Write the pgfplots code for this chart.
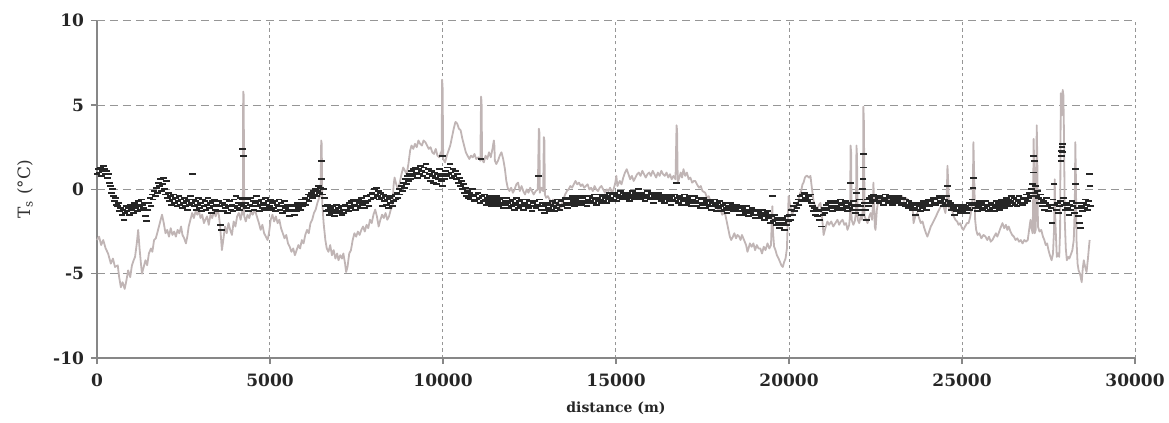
\documentclass[border=0pt]{standalone}
\usepackage{fontspec}
\setmainfont{DejaVu Serif}
\usepackage{pgfplots}
\pgfplotsset{compat=1.18}
\definecolor{lgray}{RGB}{192,181,181}
\definecolor{dmark}{RGB}{38,38,38}
\definecolor{gridc}{RGB}{150,150,150}
\definecolor{axc}{RGB}{135,135,135}
\begin{document}
\begin{tikzpicture}
\useasboundingbox (-48.5pt,-32pt) rectangle (536pt,179.05pt);
\begin{axis}[
  at={(0,0)}, anchor=south west,
  scale only axis, width=519pt, height=168.7pt,
  xmin=0, xmax=30000, ymin=-10, ymax=10,
  scaled x ticks=false, scaled y ticks=false,
  axis x line=bottom, axis y line=left,
  axis line style={-, draw=axc, line width=0.8pt},
  xtick={0,5000,10000,15000,20000,25000,30000},
  xticklabels={0,5000,10000,15000,20000,25000,30000},
  ytick={-10,-5,0,5,10},
  yticklabels={-10,-5,0,5,10},
  tick align=outside, major tick length=3pt,
  tick style={draw=axc, line width=0.6pt},
  tick label style={font=\fontsize{8.5}{10}\selectfont\bfseries, text=black!85},
  xticklabel style={yshift=-1.5pt},
  xmajorgrids, ymajorgrids,
  x grid style={draw=gridc, line width=0.5pt, dash pattern=on 1.6pt off 1.6pt},
  y grid style={draw=gridc, line width=0.5pt, dash pattern=on 4pt off 2.5pt},
  xlabel={distance (m)},
  xlabel style={font=\fontsize{7}{8}\selectfont\bfseries, text=black!85, at={(axis description cs:0.5,-0.148)}, anchor=center},
  ylabel={T\textsubscript{s} (°C)},
  ylabel style={font=\fontsize{8.5}{10}\selectfont, text=black!80, at={(axis description cs:-0.069,0.5)}, anchor=center, rotate=0},
  clip=false,
]
\addplot[color=lgray, line width=0.9pt, line join=round] table {
x y
0 -3.0
60 -2.8
120 -3.3
180 -3.0
250 -3.5
320 -3.8
400 -4.4
460 -4.1
520 -4.6
600 -4.5
640 -5.2
690 -5.8
740 -5.5
800 -5.9
850 -5.4
900 -4.8
960 -5.2
1010 -4.5
1060 -4.2
1100 -4.0
1150 -3.2
1190 -2.4
1230 -3.5
1270 -4.4
1300 -5.0
1350 -4.6
1400 -4.2
1450 -4.5
1500 -3.8
1560 -3.5
1600 -3.7
1650 -3.0
1700 -2.9
1740 -2.6
1790 -2.2
1840 -1.8
1880 -1.5
1930 -2.0
1980 -2.6
2030 -2.4
2080 -2.8
2130 -2.3
2180 -2.7
2230 -2.5
2280 -2.8
2330 -2.4
2380 -2.6
2430 -2.2
2470 -2.7
2520 -2.9
2570 -3.2
2610 -2.8
2650 -2.2
2700 -1.8
2750 -1.4
2800 -1.7
2850 -1.3
2900 -1.5
2940 -1.2
2990 -1.7
3040 -1.5
3090 -2.0
3130 -1.8
3180 -1.6
3230 -2.1
3280 -1.5
3330 -1.7
3380 -1.3
3430 -1.6
3480 -1.2
3520 -1.5
3560 -2.2
3610 -3.6
3650 -3.0
3700 -2.2
3750 -2.6
3800 -2.0
3850 -2.4
3900 -2.7
3950 -1.9
4000 -2.2
4050 -1.6
4100 -1.4
4150 -1.8
4200 -1.2
4215 -1.5
4225 5.8
4240 5.6
4255 -1.6
4300 -1.9
4350 -1.5
4400 -1.7
4450 -1.3
4500 -1.5
4560 -1.2
4620 -1.6
4680 -2.0
4730 -2.4
4780 -2.1
4830 -2.6
4880 -2.8
4930 -3.0
4970 -2.6
5020 -1.8
5070 -1.5
5120 -1.9
5170 -1.6
5220 -2.0
5270 -1.8
5320 -2.3
5370 -2.6
5420 -2.9
5470 -2.7
5520 -3.2
5570 -3.4
5620 -3.7
5670 -3.5
5720 -3.9
5770 -3.6
5820 -3.3
5870 -3.5
5920 -3.0
5970 -3.2
6020 -2.7
6070 -2.4
6120 -2.6
6170 -2.0
6220 -1.8
6270 -1.4
6320 -1.2
6370 -0.8
6420 -0.5
6460 -0.3
6480 2.9
6495 2.7
6510 -0.8
6550 -2.0
6600 -3.0
6640 -3.5
6690 -3.7
6740 -3.3
6790 -3.9
6840 -3.6
6890 -4.1
6940 -3.8
6980 -4.2
7030 -3.9
7080 -4.1
7120 -3.8
7170 -4.4
7200 -4.9
7240 -4.6
7290 -3.8
7340 -3.6
7390 -3.0
7440 -2.6
7490 -2.8
7540 -2.5
7590 -2.7
7640 -2.4
7690 -2.2
7740 -2.5
7790 -2.1
7840 -2.3
7890 -1.8
7940 -2.0
7990 -1.5
8040 -1.2
8090 -1.6
8140 -2.2
8190 -1.8
8240 -1.5
8290 -1.7
8340 -1.4
8390 -1.8
8440 -1.6
8490 -1.2
8540 -1.0
8570 0.2
8600 0.7
8650 0.3
8700 0.0
8750 0.4
8800 0.9
8850 1.3
8900 1.1
8950 0.9
9000 1.5
9050 2.3
9090 2.6
9140 2.4
9190 2.7
9240 2.5
9290 2.9
9340 2.7
9390 2.6
9440 2.9
9490 2.8
9540 2.6
9590 2.4
9640 2.5
9690 2.2
9740 2.1
9790 2.4
9840 2.0
9890 1.9
9940 2.2
9960 2.0
9975 6.5
9990 6.0
10005 1.8
10060 1.6
10110 2.0
10160 2.3
10210 2.6
10260 3.1
10310 3.6
10360 4.0
10410 3.9
10460 3.6
10510 3.5
10560 3.0
10610 2.6
10660 2.2
10710 2.0
10760 1.8
10810 2.0
10860 1.9
10910 2.1
10960 1.8
11020 1.9
11080 1.7
11100 5.5
11115 5.2
11130 1.8
11180 1.6
11230 2.0
11280 1.8
11330 2.2
11380 1.9
11430 2.4
11470 2.9
11485 2.6
11500 1.7
11540 1.5
11590 1.7
11640 2.0
11690 2.2
11740 1.8
11790 1.2
11830 0.5
11870 0.1
11920 -0.1
11970 0.1
12020 -0.2
12070 0.0
12120 0.3
12170 0.4
12220 -0.1
12270 0.2
12320 -0.1
12370 -0.3
12420 0.0
12470 -0.2
12520 0.1
12570 -0.1
12620 -0.3
12680 -0.1
12740 0.0
12770 3.6
12785 3.4
12800 -0.2
12840 0.1
12895 -0.1
12915 3.1
12930 2.9
12945 -0.3
12980 -0.5
13030 -0.4
13080 -0.6
13130 -0.9
13180 -0.6
13230 -0.8
13280 -1.0
13330 -0.7
13380 -1.2
13430 -0.9
13480 -0.6
13530 -0.3
13580 -0.1
13630 0.0
13680 0.2
13730 0.1
13780 0.3
13830 0.5
13880 0.3
13930 0.4
13980 0.2
14030 0.3
14080 0.1
14130 0.2
14180 0.3
14230 0.0
14280 0.1
14330 -0.1
14380 0.2
14430 0.0
14480 -0.1
14530 0.1
14580 0.2
14630 0.0
14680 -0.2
14730 0.0
14780 -0.1
14830 0.1
14880 -0.2
14930 0.0
14980 0.4
15010 0.8
15040 0.2
15110 0.5
15160 0.3
15210 0.7
15260 1.0
15310 1.2
15360 0.9
15410 0.6
15460 0.8
15510 0.5
15560 0.7
15610 0.9
15660 1.0
15710 0.8
15760 1.1
15810 0.9
15860 0.7
15910 0.9
15960 1.0
16010 0.8
16060 1.1
16110 0.9
16160 0.7
16210 1.0
16260 0.8
16310 1.1
16360 0.9
16410 0.8
16460 1.0
16510 0.7
16560 0.9
16610 0.6
16660 0.8
16720 0.6
16750 3.8
16765 3.5
16785 0.4
16830 0.7
16870 1.0
16910 0.7
16950 1.2
17000 0.8
17050 1.0
17100 0.6
17150 0.7
17200 0.4
17250 0.5
17290 0.5
17340 0.3
17400 0.1
17450 0.2
17500 -0.1
17580 -0.2
17630 -0.5
17680 -0.4
17730 -0.7
17780 -0.8
17830 -0.9
17870 -1.1
17920 -1.0
17970 -1.3
18020 -1.2
18070 -1.5
18120 -1.4
18160 -1.5
18200 -1.9
18250 -2.4
18290 -2.8
18330 -3.0
18380 -2.8
18420 -2.6
18470 -2.9
18510 -2.7
18560 -2.8
18600 -3.0
18640 -2.7
18680 -2.9
18720 -3.1
18760 -3.3
18800 -3.7
18830 -3.5
18870 -3.2
18920 -3.4
18970 -3.2
19020 -3.6
19070 -3.3
19120 -3.5
19170 -3.5
19220 -3.8
19270 -3.4
19320 -3.6
19380 -3.2
19430 -3.5
19480 -3.3
19500 -2.0
19520 -1.0
19540 -2.6
19570 -3.4
19610 -3.6
19650 -3.9
19700 -4.1
19740 -4.3
19780 -4.5
19820 -4.6
19860 -4.3
19900 -4.1
19940 -3.5
19970 -1.5
19990 -0.4
20030 -0.9
20070 -1.3
20100 -1.5
20140 -1.1
20190 -0.9
20230 -1.0
20270 -0.7
20310 -0.3
20350 -0.1
20390 0.3
20420 0.4
20460 0.7
20500 0.8
20530 0.8
20580 0.7
20620 0.8
20660 0.1
20710 -0.7
20760 -1.0
20820 -1.2
20870 -0.9
20910 -0.8
20950 -1.5
21000 -2.7
21050 -2.3
21110 -1.9
21160 -2.1
21220 -1.9
21280 -2.2
21340 -2.0
21400 -1.8
21450 -2.1
21500 -1.9
21550 -1.8
21600 -2.1
21650 -2.0
21690 -2.4
21740 -2.1
21765 -1.5
21780 2.6
21795 2.2
21810 -1.8
21860 -2.1
21900 -1.9
21935 -1.4
21950 2.6
21965 2.0
21985 -1.8
22030 -2.0
22070 -1.6
22110 -1.8
22135 -1.0
22150 4.9
22165 4.0
22185 -1.6
22230 -1.8
22270 -2.0
22320 -1.6
22360 -1.4
22400 -1.8
22425 -1.0
22440 0.4
22455 -0.5
22480 -2.2
22500 -2.4
22540 -1.2
22590 -0.5
22640 -0.7
22690 -0.4
22740 -0.6
22790 -0.5
22840 -0.7
22880 -0.5
22930 -0.6
22980 -0.4
23030 -0.6
23080 -0.5
23130 -0.7
23170 -0.5
23220 -0.6
23270 -0.4
23320 -0.7
23370 -0.5
23420 -0.6
23450 -0.7
23500 -0.9
23570 -1.0
23600 -2.0
23650 -1.6
23710 -1.4
23760 -1.7
23810 -2.0
23860 -1.9
23910 -2.3
23960 -2.6
24000 -2.8
24050 -2.5
24100 -2.2
24150 -2.0
24200 -1.8
24250 -1.6
24290 -1.4
24340 -1.2
24390 -1.0
24440 -0.9
24480 -1.1
24520 -1.4
24555 -0.8
24580 1.4
24600 0.5
24630 -1.2
24670 -1.0
24720 -1.3
24760 -1.6
24810 -1.8
24860 -1.9
24900 -2.1
24950 -2.0
25000 -2.3
25040 -2.4
25090 -2.2
25140 -2.0
25190 -2.0
25240 -1.6
25280 -1.0
25310 -0.5
25330 2.8
25350 1.0
25380 -1.8
25410 -2.4
25450 -2.7
25500 -2.6
25560 -2.9
25620 -2.7
25680 -2.8
25730 -3.0
25780 -2.8
25830 -3.1
25880 -3.0
25930 -2.8
25980 -2.6
26020 -2.8
26060 -2.6
26110 -2.3
26170 -2.0
26220 -2.3
26270 -2.1
26310 -2.4
26350 -2.2
26400 -2.5
26450 -2.7
26500 -2.8
26550 -3.0
26600 -2.9
26650 -3.1
26700 -3.0
26750 -3.2
26800 -3.0
26850 -3.1
26900 -3.0
26940 -2.4
26980 -1.8
27010 -2.3
27040 -2.6
27055 -1.0
27070 3.0
27085 1.5
27100 -2.6
27130 -2.4
27145 0.0
27160 3.8
27175 2.0
27195 -2.2
27240 -2.5
27290 -2.4
27340 -2.8
27380 -3.0
27420 -3.3
27460 -3.2
27500 -3.6
27540 -3.9
27590 -4.2
27630 -3.8
27660 -2.4
27680 0.6
27700 -2.0
27740 -4.0
27780 -3.8
27810 -4.0
27835 -2.5
27855 5.7
27875 5.0
27890 4.4
27910 5.9
27930 5.6
27950 3.0
27970 -1.8
28000 -3.5
28030 -4.2
28070 -4.0
28100 -4.1
28140 -3.9
28190 -3.6
28230 -3.0
28260 -1.0
28275 2.8
28290 1.0
28310 -3.0
28340 -4.4
28370 -4.8
28410 -5.0
28440 -5.3
28460 -5.5
28490 -4.7
28520 -4.2
28560 -4.6
28600 -4.9
28640 -4.1
28670 -3.4
28690 -3.0
};
\addplot[only marks, mark=-, mark size=1.7pt, color=dmark, mark options={line width=0.95pt}] table {
x y
0 0.9
30 1.2
60 1.0
90 1.3
120 0.8
150 1.1
180 1.4
210 1.2
240 0.9
270 1.1
300 0.7
330 0.9
360 0.4
390 0.2
420 -0.2
450 0.0
480 -0.4
510 -0.7
540 -0.5
570 -0.9
600 -1.0
630 -0.8
660 -1.3
690 -1.1
720 -1.5
750 -1.2
780 -1.8
810 -1.4
840 -1.0
870 -1.3
900 -1.1
930 -1.5
960 -0.9
990 -1.2
1020 -1.0
1050 -1.4
1080 -0.8
1110 -1.1
1140 -0.9
1170 -1.3
1200 -0.7
1230 -1.0
1260 -1.2
1290 -0.6
1320 -0.9
1350 -1.1
1380 -0.8
1410 -1.6
1440 -1.9
1470 -1.2
1500 -0.8
1530 -0.5
1560 -1.0
1590 -0.3
1620 -0.6
1650 -0.1
1680 -0.4
1710 0.1
1740 -0.2
1770 0.4
1800 0.2
1830 0.6
1860 -0.1
1890 0.3
1920 0.7
1950 0.0
1980 -0.3
2010 0.5
2040 -0.5
2070 -0.2
2100 -0.7
2130 -0.4
2160 -0.9
2190 -0.6
2220 -0.3
2250 -0.8
2280 -0.5
2310 -1.0
2340 -0.7
2370 -0.4
2400 -0.9
2430 -0.6
2460 -1.1
2490 -0.8
2520 -0.5
2550 -1.0
2580 -0.7
2610 -1.2
2640 -0.6
2670 -0.9
2700 -0.4
2730 -0.8
2760 0.9
2790 -0.6
2820 -1.0
2850 -0.7
2880 -1.2
2910 -0.9
2940 -0.5
2970 -1.1
3000 -0.8
3030 -1.3
3060 -0.6
3090 -1.0
3120 -0.7
3150 -1.2
3180 -0.9
3210 -0.5
3240 -1.1
3270 -0.8
3300 -1.4
3330 -0.7
3360 -1.0
3390 -0.6
3420 -1.2
3450 -0.9
3480 -1.3
3510 -0.7
3540 -1.0
3570 -2.1
3600 -2.4
3630 -0.8
3660 -1.3
3690 -0.9
3720 -1.1
3750 -0.6
3780 -1.4
3810 -1.0
3840 -0.7
3870 -1.2
3900 -0.9
3930 -1.3
3960 -0.6
3990 -1.0
4020 -0.4
4050 -1.1
4080 -0.8
4110 -1.2
4140 -0.5
4170 -0.9
4200 -0.6
4215 2.4
4225 2.0
4240 -1.0
4270 -0.5
4300 -0.8
4330 -1.1
4360 -0.6
4390 -1.3
4420 -0.9
4450 -0.5
4480 -1.0
4510 -0.7
4540 -1.2
4570 -0.8
4600 -0.4
4630 -1.0
4660 -0.7
4690 -1.3
4720 -0.9
4750 -0.6
4780 -1.1
4810 -0.8
4840 -1.2
4870 -0.5
4900 -0.9
4930 -1.1
4960 -0.7
4990 -1.0
5020 -0.6
5050 -1.2
5080 -0.8
5110 -1.1
5140 -0.7
5170 -1.3
5200 -0.9
5230 -1.0
5260 -0.6
5290 -1.2
5320 -0.8
5350 -1.4
5380 -1.0
5410 -0.7
5440 -1.1
5470 -1.3
5500 -0.9
5530 -1.2
5560 -1.6
5590 -1.0
5620 -1.3
5650 -0.9
5680 -1.2
5710 -1.5
5740 -1.0
5770 -1.3
5800 -0.8
5830 -1.1
5860 -0.9
5890 -1.2
5920 -0.6
5950 -1.0
5980 -0.8
6010 -0.5
6040 -0.9
6070 -0.6
6100 -0.3
6130 -0.7
6160 -0.4
6190 -0.2
6220 -0.5
6250 -0.1
6280 -0.3
6310 0.0
6340 -0.4
6370 -0.1
6400 0.2
6430 -0.2
6460 0.1
6480 1.7
6490 0.6
6510 -0.3
6540 0.0
6570 -0.5
6600 -1.0
6630 -1.3
6660 -0.9
6690 -1.2
6720 -1.5
6750 -1.1
6780 -1.4
6810 -1.0
6840 -1.3
6870 -1.6
6900 -1.2
6930 -0.9
6960 -1.4
6990 -1.1
7020 -1.3
7050 -1.0
7080 -1.5
7110 -1.2
7140 -1.4
7170 -0.9
7200 -1.2
7230 -1.0
7260 -1.3
7290 -0.8
7320 -1.1
7350 -0.7
7380 -1.0
7410 -0.6
7440 -0.9
7470 -1.2
7500 -0.7
7530 -1.0
7560 -0.6
7590 -0.8
7620 -1.1
7650 -0.5
7680 -0.9
7710 -0.7
7740 -1.1
7770 -0.8
7800 -0.4
7830 -0.7
7860 -1.0
7890 -0.3
7920 -0.6
7950 -0.2
7980 -0.5
8010 0.0
8040 -0.3
8070 0.1
8100 -0.4
8130 -0.1
8160 -0.6
8190 -0.2
8220 -0.5
8250 -1.0
8280 -0.3
8310 -0.7
8340 -0.4
8370 -0.9
8400 -0.6
8430 -1.1
8460 -0.5
8490 -0.8
8520 -0.4
8550 -1.0
8580 -0.7
8610 -0.3
8640 -0.6
8670 -0.2
8700 -0.5
8730 0.0
8760 -0.3
8790 0.2
8820 -0.1
8850 0.4
8880 0.1
8910 0.6
8940 0.3
8970 0.8
9000 0.5
9030 0.9
9060 0.6
9090 1.1
9120 0.8
9150 1.2
9180 0.9
9210 1.3
9240 1.0
9270 0.7
9300 1.2
9330 0.9
9360 1.4
9390 1.1
9420 0.8
9450 1.3
9480 1.0
9510 1.5
9540 0.7
9570 1.2
9600 0.9
9630 0.5
9660 1.1
9690 0.8
9720 0.4
9750 1.0
9780 0.7
9810 0.3
9840 0.9
9870 0.6
9900 1.2
9930 0.8
9960 0.5
9975 2.0
9990 0.2
10020 0.9
10050 0.6
10080 1.1
10110 0.8
10140 1.3
10170 0.9
10200 1.5
10230 1.0
10260 0.7
10290 1.2
10320 0.8
10350 1.1
10380 0.6
10410 0.9
10440 0.4
10470 0.7
10500 0.2
10530 0.5
10560 0.0
10590 0.3
10620 -0.2
10650 0.1
10680 -0.4
10710 -0.1
10740 -0.5
10770 -0.2
10800 -0.6
10830 -0.3
10860 0.0
10890 -0.4
10920 -0.7
10950 -0.3
10980 -0.6
11010 -0.2
11040 -0.5
11070 -0.8
11100 1.8
11130 -0.4
11160 -0.7
11190 -0.3
11220 -0.6
11250 -0.9
11280 -0.5
11310 -0.8
11340 -0.4
11370 -0.7
11400 -1.0
11430 -0.6
11460 -0.9
11490 -0.5
11520 -0.8
11550 -0.4
11580 -0.7
11610 -1.0
11640 -0.6
11670 -0.9
11700 -0.5
11730 -0.8
11760 -1.1
11790 -0.7
11820 -0.9
11850 -0.5
11880 -0.8
11910 -1.1
11940 -0.7
11970 -1.0
12000 -0.6
12030 -0.9
12060 -1.2
12090 -0.8
12120 -0.5
12150 -0.9
12180 -1.1
12210 -0.7
12240 -1.0
12270 -0.6
12300 -0.9
12330 -1.2
12360 -0.8
12390 -1.0
12420 -0.6
12450 -0.9
12480 -1.1
12510 -0.7
12540 -1.0
12570 -1.3
12600 -0.8
12630 -1.0
12660 -0.7
12690 -1.1
12720 -0.9
12770 0.8
12780 -0.6
12810 -1.0
12840 -1.2
12870 -0.8
12900 -1.0
12930 -1.4
12960 -0.9
12990 -1.2
13020 -0.8
13050 -1.1
13080 -1.3
13110 -0.9
13140 -1.2
13170 -0.7
13200 -1.0
13230 -1.3
13260 -0.8
13290 -1.1
13320 -0.6
13350 -0.9
13380 -1.2
13410 -0.7
13440 -1.0
13470 -0.6
13500 -0.9
13530 -0.5
13560 -0.8
13590 -1.1
13620 -0.6
13650 -0.9
13680 -0.5
13710 -0.8
13740 -0.4
13770 -0.7
13800 -1.0
13830 -0.6
13860 -0.9
13890 -0.5
13920 -0.8
13950 -0.4
13980 -0.7
14010 -0.9
14040 -0.5
14070 -0.8
14100 -0.4
14130 -0.7
14160 -1.0
14190 -0.6
14220 -0.8
14250 -0.4
14280 -0.7
14310 -0.5
14340 -0.8
14370 -0.3
14400 -0.6
14430 -0.9
14460 -0.5
14490 -0.7
14520 -0.3
14550 -0.6
14580 -0.8
14610 -0.4
14640 -0.7
14670 -0.3
14700 -0.5
14730 -0.8
14760 -0.4
14790 -0.6
14820 -0.2
14850 -0.5
14880 -0.7
14910 -0.3
14940 -0.6
14970 -0.2
15000 -0.4
15030 -0.7
15060 -0.3
15090 -0.5
15120 -0.1
15150 -0.4
15180 -0.6
15210 -0.2
15240 -0.5
15270 -0.3
15300 -0.6
15330 -0.2
15360 -0.4
15390 -0.7
15420 -0.3
15450 -0.5
15480 -0.1
15510 -0.4
15540 -0.6
15570 -0.2
15600 -0.5
15630 -0.3
15660 0.0
15690 -0.4
15720 -0.6
15750 -0.2
15780 -0.5
15810 -0.3
15840 -0.7
15870 -0.4
15900 -0.1
15930 -0.5
15960 -0.3
15990 -0.6
16020 -0.2
16050 -0.5
16080 -0.8
16110 -0.4
16140 -0.6
16170 -0.3
16200 -0.5
16230 -0.2
16260 -0.6
16290 -0.4
16320 -0.7
16350 -0.3
16380 -0.5
16410 -0.8
16440 -0.4
16470 -0.6
16500 -0.3
16530 -0.7
16560 -0.5
16590 -0.9
16620 -0.4
16650 -0.6
16680 -0.3
16710 -0.7
16750 0.4
16770 -0.5
16800 -0.8
16830 -0.4
16860 -0.6
16890 -0.9
16920 -0.5
16950 -0.7
16980 -0.3
17010 -0.6
17040 -0.9
17070 -0.5
17100 -0.8
17130 -0.4
17160 -0.7
17190 -1.0
17220 -0.6
17250 -0.8
17280 -0.4
17310 -0.7
17340 -1.0
17370 -0.5
17400 -0.8
17430 -1.1
17460 -0.6
17490 -0.9
17520 -0.5
17550 -0.8
17580 -1.1
17610 -0.7
17640 -0.9
17670 -0.6
17700 -1.0
17730 -0.7
17760 -1.2
17790 -0.8
17820 -1.0
17850 -0.6
17880 -0.9
17910 -1.3
17940 -0.8
17970 -1.1
18000 -0.7
18030 -1.0
18060 -1.3
18090 -0.9
18120 -1.2
18150 -0.8
18180 -1.1
18210 -1.4
18240 -1.0
18270 -1.2
18300 -0.8
18330 -1.1
18360 -0.9
18390 -1.3
18420 -1.0
18450 -1.2
18480 -0.9
18510 -1.3
18540 -1.1
18570 -1.5
18600 -1.0
18630 -1.3
18660 -1.1
18690 -1.5
18720 -1.2
18750 -1.4
18780 -1.0
18810 -1.3
18840 -1.6
18870 -1.2
18900 -1.4
18930 -1.1
18960 -1.5
18990 -1.3
19020 -1.7
19050 -1.2
19080 -1.5
19110 -1.3
19140 -1.7
19170 -1.4
19200 -1.6
19230 -1.2
19260 -1.5
19290 -1.8
19320 -1.4
19350 -1.6
19380 -1.3
19410 -1.7
19440 -1.5
19470 -2.0
19500 -1.6
19520 -0.4
19540 -1.9
19570 -1.5
19600 -1.8
19630 -2.1
19660 -1.7
19690 -2.0
19720 -2.3
19750 -1.8
19780 -2.1
19810 -1.7
19840 -2.0
19870 -2.4
19900 -1.8
19930 -2.1
19960 -1.6
19990 -1.9
20020 -1.5
20050 -1.8
20080 -1.2
20110 -1.5
20140 -1.0
20170 -1.3
20200 -0.8
20230 -1.1
20260 -0.6
20290 -0.9
20320 -0.4
20350 -0.7
20380 -0.3
20410 -0.6
20440 -0.2
20470 -0.5
20500 -0.3
20530 -0.7
20560 -0.4
20590 -0.6
20620 -0.3
20650 -0.8
20680 -1.0
20710 -1.3
20740 -1.1
20770 -1.5
20800 -1.2
20830 -1.6
20860 -1.3
20890 -1.8
20920 -1.2
20950 -2.2
20980 -1.5
21010 -1.1
21040 -1.4
21070 -0.9
21100 -1.2
21130 -0.8
21160 -1.1
21190 -0.7
21220 -1.0
21250 -1.3
21280 -0.8
21310 -1.1
21340 -0.7
21370 -1.0
21400 -1.2
21430 -0.8
21460 -1.1
21490 -0.6
21520 -0.9
21550 -1.2
21580 -0.8
21610 -1.1
21640 -0.7
21670 -1.0
21700 -1.3
21730 -0.8
21760 -1.1
21780 0.4
21800 -0.9
21830 -1.2
21860 -0.7
21890 -1.0
21920 -1.4
21950 -0.2
21980 -0.9
22010 -1.2
22040 -0.6
22070 -1.0
22100 -1.5
22130 0.0
22140 0.6
22150 1.3
22160 2.1
22180 -0.8
22210 -1.2
22240 -1.8
22270 -0.6
22300 -1.0
22330 -0.5
22360 -0.8
22390 -0.4
22420 -0.7
22450 -0.3
22480 -0.6
22510 -0.4
22540 -0.7
22570 -0.5
22600 -0.8
22630 -0.4
22660 -0.7
22690 -0.5
22720 -0.9
22750 -0.6
22780 -0.3
22810 -0.7
22840 -0.5
22870 -0.8
22900 -0.4
22930 -0.7
22960 -0.5
22990 -0.9
23020 -0.6
23050 -0.4
23080 -0.8
23110 -0.5
23140 -0.7
23170 -0.4
23200 -0.8
23230 -0.6
23260 -0.9
23290 -0.5
23320 -0.8
23350 -1.0
23380 -0.6
23410 -0.9
23440 -1.1
23470 -0.7
23500 -1.0
23530 -0.8
23560 -1.2
23590 -0.9
23620 -1.1
23650 -1.5
23680 -0.9
23710 -1.2
23740 -0.8
23770 -1.0
23800 -1.3
23830 -0.9
23860 -1.1
23890 -0.7
23920 -1.0
23950 -0.8
23980 -1.2
24010 -0.9
24040 -0.6
24070 -1.0
24100 -0.7
24130 -0.9
24160 -0.5
24190 -0.8
24220 -0.6
24250 -0.9
24280 -0.5
24310 -0.8
24340 -0.4
24370 -0.7
24400 -0.5
24430 -0.8
24460 -1.0
24490 -0.6
24520 -0.9
24550 -0.4
24580 0.2
24600 -0.7
24630 -1.0
24660 -0.8
24690 -1.2
24720 -0.9
24750 -1.1
24780 -1.5
24810 -1.0
24840 -1.3
24870 -0.9
24900 -1.2
24930 -1.0
24960 -1.4
24990 -1.1
25020 -1.3
25050 -0.9
25080 -1.2
25110 -1.0
25140 -1.4
25170 -1.1
25200 -0.8
25230 -1.2
25260 -0.9
25290 -0.6
25320 0.1
25340 0.7
25360 -0.8
25390 -1.1
25420 -0.9
25450 -1.3
25480 -1.0
25510 -0.7
25540 -1.1
25570 -0.8
25600 -1.2
25630 -0.9
25660 -1.1
25690 -0.7
25720 -1.0
25750 -1.3
25780 -0.9
25810 -1.2
25840 -0.8
25870 -1.1
25900 -0.9
25930 -1.3
25960 -1.0
25990 -0.7
26020 -1.1
26050 -0.8
26080 -1.2
26110 -0.9
26140 -0.6
26170 -1.0
26200 -0.7
26230 -1.1
26260 -0.8
26290 -0.5
26320 -0.9
26350 -0.6
26380 -1.0
26410 -0.7
26440 -0.4
26470 -0.8
26500 -0.5
26530 -0.9
26560 -0.6
26590 -1.0
26620 -0.7
26650 -0.4
26680 -0.8
26710 -0.6
26740 -0.9
26770 -0.5
26800 -0.8
26830 -0.6
26860 -0.3
26890 -0.7
26920 -0.5
26950 -0.2
26980 -0.4
27010 0.0
27040 0.3
27055 1.0
27070 2.0
27085 1.7
27100 -0.2
27130 0.2
27150 -0.4
27180 -0.1
27210 -0.5
27240 -0.8
27270 -0.3
27300 -0.6
27330 -1.0
27360 -0.7
27390 -1.2
27420 -0.8
27450 -0.5
27480 -1.0
27510 -1.3
27540 -0.9
27570 -1.1
27600 -2.0
27630 -0.6
27660 0.3
27690 -0.9
27720 -1.2
27750 -0.8
27780 -1.4
27810 -1.0
27840 -0.7
27860 1.7
27870 2.0
27880 2.3
27890 2.5
27900 2.7
27910 2.2
27940 -0.5
27970 -0.9
28000 -1.2
28030 -0.8
28060 -1.1
28090 -1.5
28120 -0.9
28150 -1.2
28180 -0.7
28210 -1.0
28240 -1.4
28270 1.2
28290 0.3
28310 -0.8
28340 -1.1
28370 -1.6
28400 -2.0
28420 -2.3
28450 -1.0
28480 -1.3
28510 -0.8
28540 -1.1
28570 -0.6
28600 -0.9
28630 -1.2
28660 -0.7
28680 0.9
28700 0.2
28720 -1.0
};
\end{axis}
\end{tikzpicture}
\end{document}
